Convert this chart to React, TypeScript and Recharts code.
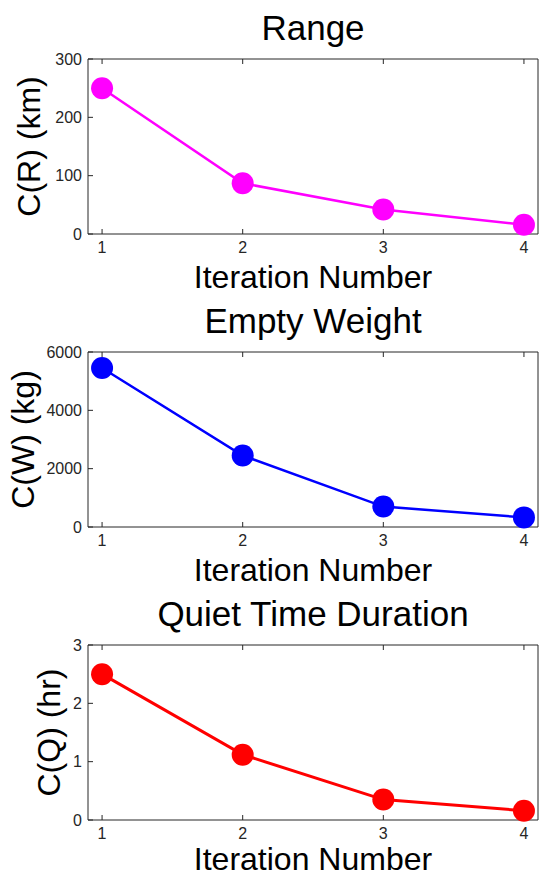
import { LineChart, Line, XAxis, YAxis } from "recharts"

const iterations = [1, 2, 3, 4]
const rangeValues = [250, 87, 42, 16]
const weightValues = [5450, 2450, 700, 330]
const quietValues = [2.5, 1.12, 0.35, 0.16]

const xTicks = [1, 2, 3, 4]
const rangeTicks = [0, 100, 200, 300]
const weightTicks = [0, 2000, 4000, 6000]
const quietTicks = [0, 1, 2, 3]

const font = "'Liberation Sans', Arial, Helvetica, sans-serif"
const axisColor = "#262626"

function makeRows(values) {
  return iterations.map((it, i) => ({ it, v: values[i] }))
}

function SubPlot({ title, ylabel, values, ticks, color, labelX, top, lineWidth, xLabelOffset }) {
  const data = makeRows(values)
  const domain = [ticks[0], ticks[ticks.length - 1]]
  const tickStyle = { fontSize: 16, fill: axisColor, fontFamily: font }
  const yLabel = ({ viewBox }) => {
    const cy = viewBox.y + viewBox.height / 2
    return (
      <text
        x={labelX}
        y={cy}
        transform={`rotate(-90, ${labelX}, ${cy})`}
        textAnchor="middle"
        fontSize={32}
        fontFamily={font}
        fill="#000"
      >
        {ylabel}
      </text>
    )
  }
  return (
    <div style={{ position: "absolute", left: 0, top }}>
      <LineChart width={549} height={300} data={data} margin={{ top: 58, right: 10, bottom: 7, left: 0 }}>
        <text x={313} y={40} textAnchor="middle" fontSize={35} fontFamily={font} fill="#000">
          {title}
        </text>
        <XAxis
          dataKey="it"
          type="number"
          domain={[0.9, 4.1]}
          ticks={xTicks}
          allowDataOverflow
          height={59}
          tickSize={-5}
          tickMargin={13}
          stroke={axisColor}
          tick={tickStyle}
          label={{ value: "Iteration Number", position: "insideBottom", offset: xLabelOffset, fontSize: 32, fill: "#000", fontFamily: font }}
        />
        <XAxis
          xAxisId="top"
          orientation="top"
          dataKey="it"
          type="number"
          domain={[0.9, 4.1]}
          ticks={xTicks}
          allowDataOverflow
          height={1}
          tickSize={-5}
          stroke={axisColor}
          tickFormatter={() => ""}
        />
        <YAxis
          type="number"
          domain={domain}
          ticks={ticks}
          width={88}
          tickSize={-5}
          tickMargin={11}
          stroke={axisColor}
          tick={tickStyle}
          label={{ content: yLabel }}
        />
        <YAxis
          yAxisId="right"
          orientation="right"
          type="number"
          domain={domain}
          ticks={ticks}
          width={1}
          tickSize={-5}
          stroke={axisColor}
          tickFormatter={() => ""}
        />
        <Line
          dataKey="v"
          stroke={color}
          strokeWidth={lineWidth}
          dot={{ r: 11, fill: color, stroke: color, strokeWidth: 0 }}
          activeDot={false}
          isAnimationActive={false}
        />
      </LineChart>
    </div>
  )
}

export default function App() {
  return (
    <div style={{ position: "absolute", top: 0, left: 0, width: 549, height: 879, overflow: "hidden", background: "#fff" }}>
      <SubPlot top={0} title="Range" ylabel="C(R) (km)" values={rangeValues} ticks={rangeTicks} color="#ff00ff" labelX={40} lineWidth={2.5} xLabelOffset={5} />
      <SubPlot top={293} title="Empty Weight" ylabel="C(W) (kg)" values={weightValues} ticks={weightTicks} color="#0000ff" labelX={34} lineWidth={2.5} xLabelOffset={5} />
      <SubPlot top={586} title="Quiet Time Duration" ylabel="C(Q) (hr)" values={quietValues} ticks={quietTicks} color="#ff0000" labelX={60} lineWidth={3} xLabelOffset={9} />
    </div>
  )
}
